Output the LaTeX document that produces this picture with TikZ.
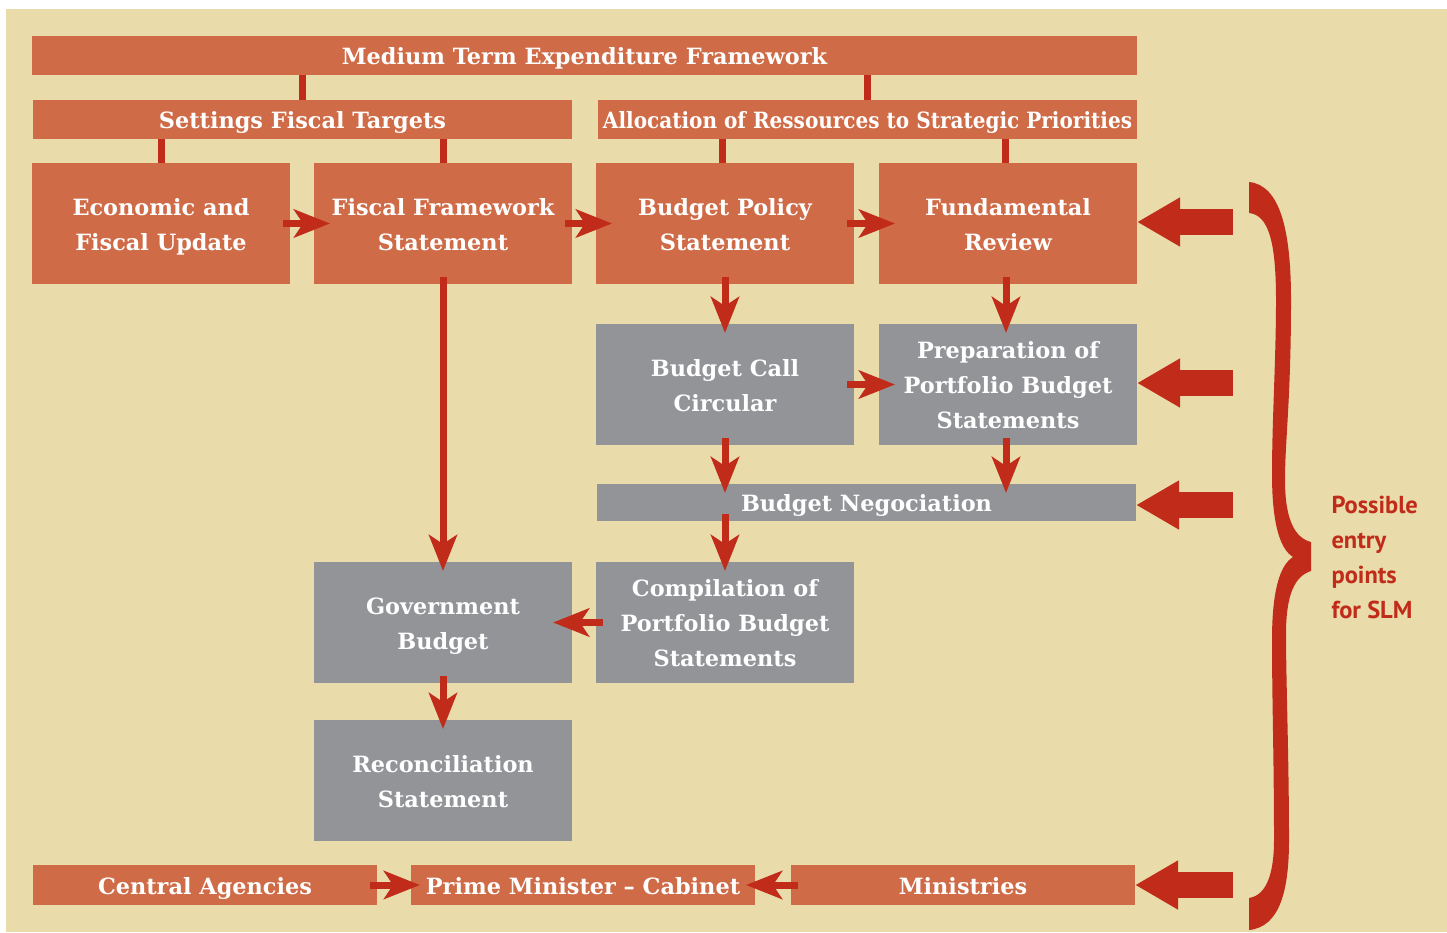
\documentclass[tikz,border=0pt]{standalone}
\usepackage{graphicx}
\usepackage{fontspec}
\setmainfont{DejaVu Serif}
\newfontfamily\slmfont{PT Sans}
\usetikzlibrary{positioning, arrows.meta}
\definecolor{bgbeige}{HTML}{E9DBAA}
\definecolor{boxorange}{HTML}{CF6B47}
\definecolor{boxgray}{HTML}{939498}
\definecolor{linkred}{HTML}{C12C1A}
\newcommand{\linestrut}{\rule[-6pt]{0pt}{30pt}}

\begin{document}
\begin{tikzpicture}[x=1pt, y=-1pt,
    box/.style={shape=rectangle, inner sep=0pt, outer sep=0pt, text=white, align=center,
                execute at begin node=\linestrut, execute at end node=\linestrut,
                font=\bfseries\fontsize{22.4}{35}\selectfont, minimum width=258pt, minimum height=121pt},
    orangebox/.style={box, fill=boxorange},
    graybox/.style={box, fill=boxgray},
    bar/.style={orangebox, minimum height=39pt},
    link/.style={draw=linkred, line width=7pt},
    flow/.style={link, shorten <=-7pt, shorten >=-9pt, -{Stealth[length=36pt, width=28pt, inset=9pt]}},
    entry/.style={draw=linkred, line width=26pt, -{Triangle[length=43pt, width=46pt]}}]
    \fill[white] (0,0) rectangle (1447,932);
    \fill[bgbeige] (6,9) rectangle (1447,932);

    \node[bar, minimum width=1105pt] (mtef) at (584.5,55.5) {Medium Term Expenditure Framework};
    \node[bar, minimum width=539pt] (targets) at (302.5,119.5) {Settings Fiscal Targets};
    \node[bar, minimum width=539pt] (alloc) at (867.5,119.5) {\resizebox{529pt}{\height}{Allocation of Ressources to Strategic Priorities}};

    \node[orangebox] (econ) at (161,223.5) {\linestrut Economic and\\Fiscal Update};
    \node[orangebox, right=24pt of econ] (ffs) {\linestrut Fiscal Framework\\Statement};
    \node[orangebox, right=24pt of ffs] (bps) {\linestrut Budget Policy\\Statement};
    \node[orangebox, right=25pt of bps] (fund) {\linestrut Fundamental\\Review};
    \node[graybox, below=40pt of bps] (call) {\linestrut Budget Call\\Circular};
    \node[graybox, below=40pt of fund] (prep) {\linestrut Preparation of\\Portfolio Budget\\Statements};
    \node[graybox, minimum width=539pt, minimum height=37pt] (nego) at (866.5,502.5) {Budget Negociation};
    \node[graybox] (comp) at (725,622.5) {\linestrut Compilation of\\Portfolio Budget\\Statements};
    \node[graybox, left=24pt of comp] (govb) {\linestrut Government\\Budget};
    \node[graybox, below=37pt of govb] (recon) {\linestrut Reconciliation\\Statement};

    \node[bar, minimum width=344pt, minimum height=40pt] (central) at (205,885) {Central Agencies};
    \node[bar, minimum width=344pt, minimum height=40pt, right=34pt of central] (pm) {Prime Minister – Cabinet};
    \node[bar, minimum width=344pt, minimum height=40pt, right=36pt of pm] (mins) {Ministries};

    \draw[link] (targets.north) -- (targets.north |- mtef.south);
    \draw[link] (alloc.north) -- (alloc.north |- mtef.south);
    \draw[link] (econ.north) -- (econ.north |- targets.south);
    \draw[link] (ffs.north) -- (ffs.north |- targets.south);
    \draw[link] ([xshift=-3pt]bps.north) -- ([xshift=-3pt]bps.north |- alloc.south);
    \draw[link] ([xshift=-3pt]fund.north) -- ([xshift=-3pt]fund.north |- alloc.south);

    \draw[flow, shorten >=-16pt] (econ) -- (ffs);
    \draw[flow, shorten >=-16pt] (ffs) -- (bps);
    \draw[flow, shorten >=-16pt] (bps) -- (fund);
    \draw[flow, shorten >=-16pt] (call) -- (prep);
    \draw[flow] (ffs) -- (govb);
    \draw[flow] (call.north |- bps.south) -- (call.north);
    \draw[flow] ([xshift=-2pt]fund.south) -- ([xshift=-2pt]prep.north);
    \draw[flow] (call.south) -- (call.south |- nego.north);
    \draw[flow] ([xshift=-2pt]prep.south) -- ([xshift=-2pt]prep.south |- nego.north);
    \draw[flow] (call.south |- nego.south) -- (call.south |- comp.north);
    \draw[flow, shorten >=-19pt] (comp) -- (govb);
    \draw[flow] (govb) -- (recon);
    \draw[flow] (central) -- (pm);
    \draw[flow] (mins) -- (pm);

    \coordinate (fundin) at (1233,222);
    \coordinate (prepin) at (1233,383);
    \coordinate (negoin) at (1233,505);
    \coordinate (minsin) at (1233,885);
    \draw[entry] (fundin) -- (fundin -| fund.east);
    \draw[entry] (prepin) -- (prepin -| prep.east);
    \draw[entry] (negoin) -- (negoin -| nego.east);
    \draw[entry] (minsin) -- (minsin -| mins.east);

    \fill[linkred] (1249,182) .. controls (1280,185) and (1291,230) .. (1291,300)
        .. controls (1291,400) and (1285,440) .. (1285,480)
        .. controls (1285,520) and (1295,538) .. (1311,542) -- (1311,571)
        .. controls (1295,576) and (1286,594) .. (1286,634)
        .. controls (1286,680) and (1289,760) .. (1289,840)
        .. controls (1289,890) and (1280,927) .. (1249,930) -- (1249,898)
        .. controls (1268,895) and (1274,870) .. (1274,840)
        .. controls (1274,760) and (1272,700) .. (1272,640)
        .. controls (1272,590) and (1280,565) .. (1293,557)
        .. controls (1280,549) and (1272,524) .. (1272,474)
        .. controls (1272,420) and (1276,360) .. (1276,300)
        .. controls (1276,240) and (1268,215) .. (1249,213) -- cycle;
    \node[anchor=west, align=left, text=linkred, font=\slmfont\bfseries\fontsize{24.5}{35}\selectfont] (slm) at (1328,557) {Possible\\entry\\points\\for SLM};
\end{tikzpicture}
\end{document}
